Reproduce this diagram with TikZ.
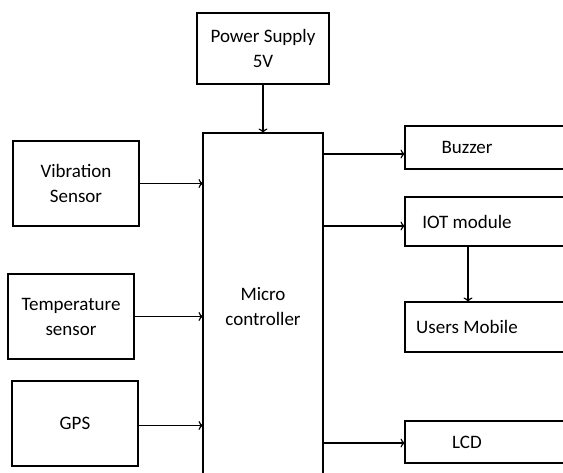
\documentclass[tikz,border=0pt]{standalone}
\usepackage{fontspec}
\setmainfont{Carlito}
\usetikzlibrary{arrows.meta,positioning}

\begin{document}
\begin{tikzpicture}[
    x=1pt, y=-1pt,
    box/.style={draw, line width=1.2pt, outer sep=0pt, inner sep=2pt, align=center, font=\fontsize{19}{25}\selectfont},
    lbox/.style={box, minimum width=126pt, minimum height=85pt},
    rbox/.style={box, minimum width=170pt, execute at end node={\hspace*{46pt}}},
    link/.style={line width=1.2pt, -{To[length=4.5pt, width=9pt]}}
]
    \useasboundingbox (0,0) rectangle (563,472);

    % controller and supply
    \node[box, minimum width=120pt, minimum height=347pt] (mc) at (263,306.5) {Micro\\controller};
    \node[box, minimum width=132pt, minimum height=71pt, above=49pt of mc] (power) {Power Supply\\5V};

    % inputs
    \node[lbox] (vib) at (76,183.5) {Vibration\\Sensor};
    \node[lbox] (temp) at (71,316.5) {Temperature\\sensor};
    \node[lbox] (gps) at (75,423.5) {GPS};

    % outputs
    \node[rbox, minimum height=43pt] (buzzer) at (490,147.5) {Buzzer};
    \node[rbox, minimum height=49pt, below=28pt of buzzer] (iot) {IOT module};
    \node[rbox, minimum height=50pt, below=56pt of iot] (mobile) {Users Mobile};
    \node[rbox, minimum height=42pt, below=69pt of mobile] (lcd) {LCD};

    \draw[link] (power) -- (mc);
    \draw[link] (vib.east) -- (vib.east -| mc.west);
    \draw[link] (temp.east) -- (temp.east -| mc.west);
    \draw[link] ([yshift=-2pt]gps.east) -- ([yshift=-2pt]gps.east -| mc.west);
    \draw[link] ([yshift=-6.5pt]buzzer.west -| mc.east) -- ([yshift=-6.5pt]buzzer.west);
    \draw[link] ([yshift=-4.5pt]iot.west -| mc.east) -- ([yshift=-4.5pt]iot.west);
    \draw[link] ([yshift=-1pt]lcd.west -| mc.east) -- ([yshift=-1pt]lcd.west);
    \draw[link] ([xshift=-22pt]iot.south) -- ([xshift=-22pt]mobile.north);
\end{tikzpicture}
\end{document}
